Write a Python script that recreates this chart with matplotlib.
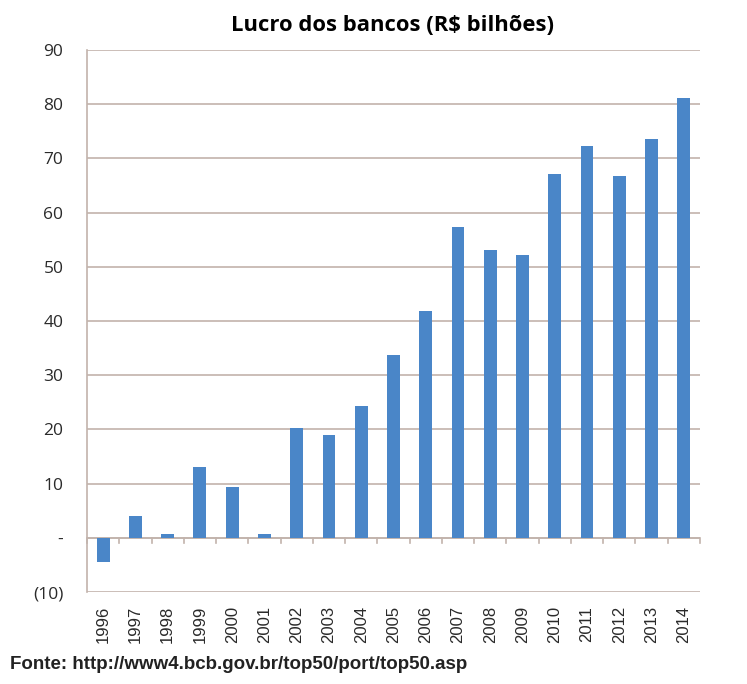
import matplotlib
matplotlib.use("Agg")
import matplotlib.pyplot as plt
import numpy as np

anos = ["1996", "1997", "1998", "1999", "2000", "2001", "2002", "2003", "2004", "2005",
        "2006", "2007", "2008", "2009", "2010", "2011", "2012", "2013", "2014"]
lucro = [-4.4, 4.1, 0.7, 13.1, 9.4, 0.7, 20.3, 19.0, 24.4, 33.8,
         41.9, 57.3, 53.0, 52.2, 67.2, 72.3, 66.8, 73.6, 81.2]
y_ticks = [-10, 0, 10, 20, 30, 40, 50, 60, 70, 80, 90]
y_labels = ["(10)", "-", "10", "20", "30", "40", "50", "60", "70", "80", "90"]

grid_cor = '#c2b3ac'

fig = plt.figure(figsize=(7.47, 6.84), dpi=100)
ax = fig.add_axes([0.1165, 0.1345, 0.8205, 0.7925])

x = np.arange(len(anos))
ax.bar(x, lucro, width=0.4, color='#4a86c8', zorder=3)

ax.set_xlim(-0.5, len(anos) - 0.5)
ax.set_ylim(-10, 90)
ax.set_yticks(y_ticks)
ax.set_yticklabels(y_labels, fontsize=12.5, family='Open Sans', color='#2a2a2a')
ax.yaxis.grid(True, color=grid_cor, linewidth=1.2, zorder=0)
ax.tick_params(axis='y', length=0, pad=17)

# eixo x com categorias: linha no zero e marcas entre as categorias
ax.axhline(0, color=grid_cor, linewidth=1.2, zorder=2)
for b in np.arange(-0.5, len(anos), 1.0):
    ax.plot([b, b], [0, -0.9], color=grid_cor, linewidth=1.2, zorder=2, clip_on=False)

ax.set_xticks(x)
ax.set_xticklabels(anos, rotation=90, fontsize=12, family='Liberation Sans', color='#2a2a2a')
ax.tick_params(axis='x', length=0, pad=10)

for s in ['top', 'right', 'bottom']:
    ax.spines[s].set_visible(False)
ax.spines['left'].set_color(grid_cor)
ax.spines['left'].set_linewidth(1.2)

fig.text(0.525, 0.962, 'Lucro dos bancos (R$ bilhões)', ha='center', va='center',
         fontsize=15.8, fontweight='bold', family='Open Sans')
fig.text(0.013, 0.029, 'Fonte: http://www4.bcb.gov.br/top50/port/top50.asp', ha='left', va='center',
         fontsize=13.5, fontweight='bold', family='Liberation Sans', color='#222222')

fig.savefig('out.png', dpi=100)
